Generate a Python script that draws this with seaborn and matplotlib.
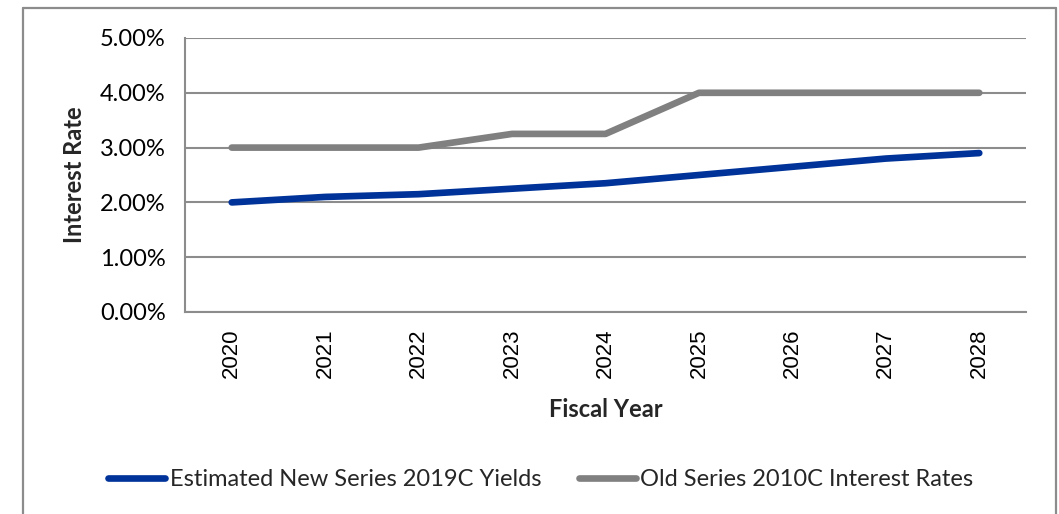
import matplotlib
matplotlib.use("Agg")
import matplotlib.pyplot as plt
from matplotlib.lines import Line2D
from matplotlib.ticker import FuncFormatter, FixedLocator
import seaborn as sns
import pandas as pd

years = [2020, 2021, 2022, 2023, 2024, 2025, 2026, 2027, 2028]
new_series = [2.00, 2.10, 2.15, 2.25, 2.35, 2.50, 2.65, 2.80, 2.90]
old_series = [3.00, 3.00, 3.00, 3.25, 3.25, 4.00, 4.00, 4.00, 4.00]
series_names = ["Estimated New Series 2019C Yields", "Old Series 2010C Interest Rates"]
y_ticks = [0, 1, 2, 3, 4, 5]

df = pd.DataFrame({
    "Fiscal Year": years * 2,
    "Rate": new_series + old_series,
    "Series": [series_names[0]] * len(years) + [series_names[1]] * len(years),
})

sns.set_theme(style="white")
plt.rcParams["font.family"] = ["Lato", "DejaVu Sans"]

fig = plt.figure(figsize=(10.59, 5.14), dpi=100)
ax = fig.add_axes([185 / 1059, 1 - 312 / 514, (1026 - 185) / 1059, (312 - 38) / 514])

palette = {series_names[0]: "#003399", series_names[1]: "#808080"}
sns.lineplot(data=df, x="Fiscal Year", y="Rate", hue="Series", palette=palette,
             linewidth=4.8, ax=ax, legend=False, solid_capstyle="round")

grid_c = "#8c8c8c"
ax.set_xlim(years[0] - 0.5, years[-1] + 0.5)
ax.set_ylim(0, 5)
ax.set_yticks(y_ticks)
ax.yaxis.set_major_formatter(FuncFormatter(lambda v, p: f"{v:.2f}%"))
ax.set_xticks(years)
ax.set_xticklabels([str(y) for y in years], rotation=90, fontsize=16,
                   family="Liberation Sans", color="#000000")
ax.xaxis.set_minor_locator(FixedLocator([y + 0.5 for y in [years[0] - 1] + years]))
ax.tick_params(axis="x", which="major", length=0, pad=12)
ax.tick_params(axis="x", which="minor", length=8, width=1.4, color=grid_c, direction="out")
ax.tick_params(axis="y", which="major", length=8, width=1.4, color=grid_c,
               direction="out", labelsize=17, pad=6, labelcolor="#000000")

ax.grid(axis="y", color=grid_c, linewidth=1.5)
ax.set_axisbelow(True)
for s in ["top", "right"]:
    ax.spines[s].set_visible(False)
for s in ["left", "bottom"]:
    ax.spines[s].set_color(grid_c)
    ax.spines[s].set_linewidth(1.5)

ax.set_xlabel("Fiscal Year", fontsize=17, fontweight="bold", labelpad=14)
ax.set_ylabel("Interest Rate", fontsize=17, fontweight="bold", labelpad=10)

# outer chart frame
frame_c = "#8c8c8c"
fig.add_artist(Line2D([23 / 1059, 23 / 1059], [0, 1 - 8 / 514], transform=fig.transFigure,
                      color=frame_c, linewidth=1.6))
fig.add_artist(Line2D([23 / 1059, 1056 / 1059], [1 - 8 / 514, 1 - 8 / 514], transform=fig.transFigure,
                      color=frame_c, linewidth=1.6))
fig.add_artist(Line2D([1056 / 1059, 1056 / 1059], [0, 1 - 8 / 514], transform=fig.transFigure,
                      color=frame_c, linewidth=1.6))

handles = [Line2D([], [], color=palette[n], linewidth=4.8, solid_capstyle="round") for n in series_names]
fig.legend(handles, series_names, loc="center", bbox_to_anchor=(541 / 1059, 1 - 480 / 514),
           ncol=2, frameon=False, fontsize=17, handlelength=2.4, handletextpad=0.2,
           columnspacing=1.6)

fig.savefig("out.png", dpi=100, facecolor="white")
